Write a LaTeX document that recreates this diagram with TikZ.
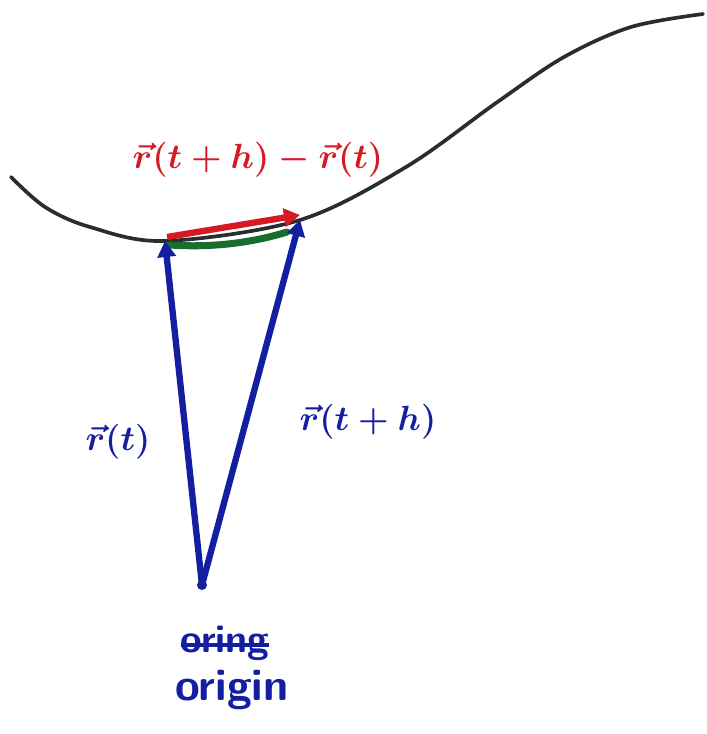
\documentclass[tikz,border=0pt]{standalone}
\usepackage{amsmath,amssymb}
\usepackage{xcolor}
\usepackage{tikz}
\usetikzlibrary{positioning, arrows.meta, calc}

\definecolor{penblue}{RGB}{20,30,160}
\definecolor{penred}{RGB}{215,25,35}
\definecolor{pengreen}{RGB}{25,110,45}
\definecolor{penblack}{RGB}{40,45,45}

\begin{document}
\begin{tikzpicture}[
        x=0.025cm, y=-0.025cm,
        font=\fontsize{30}{34}\selectfont\bfseries,
        curve/.style={penblack, line width=2.6pt, line cap=round},
        vec/.style={-{Triangle[length=4mm, width=4.5mm]}, line width=4.5pt, #1},
        vec/.default=penblue,
        lbl/.style={text=#1, inner sep=1pt},
        lbl/.default=penblue,
    ]
    \useasboundingbox (0,0) rectangle (707,734);

    % Points
    \coordinate (origin) at (202,585);
    \coordinate (pt) at (165,241);
    \coordinate (pth) at (300,220);

    % Curve
    \draw[curve] plot[smooth, tension=0.55] coordinates {(11,177) (45,207) (90,227) (165,241) (300,220) (406,167) (496,103) (564,57) (631,27) (703,14)};

    % Arc between the two points
    \draw[pengreen, line width=5pt, line cap=round] (170,245) .. controls (215,248) and (255,242) .. (287,232);

    % Difference vector
    \draw[vec=penred] (pt) ++(2,-4) -- ($(pth)+(0,-5)$);

    % Position vectors
    \draw[vec] (origin) -- (pt);
    \draw[vec] (origin) -- (pth);
    \fill[penblue] (origin) circle (5);

    % Labels
    \node[lbl=penred] (diff) at (258,160) {$\boldsymbol{\vec r(t+h)-\vec r(t)}$};
    \node[lbl] (rt) at (118,442) {$\boldsymbol{\vec r(t)}$};
    \node[lbl] (rth) at (368,422) {$\boldsymbol{\vec r(t+h)}$};
    \node[lbl, font=\fontsize{28}{30}\selectfont\sffamily\bfseries] (oring) at (225,643) {oring};
    \draw[penblue, line width=3pt] (oring.west) ++(2,2) -- ($(oring.east)+(-2,2)$);
    \node[lbl, font=\fontsize{32}{34}\selectfont\sffamily\bfseries] (origintext) at (232,690) {origin};
\end{tikzpicture}
\end{document}
